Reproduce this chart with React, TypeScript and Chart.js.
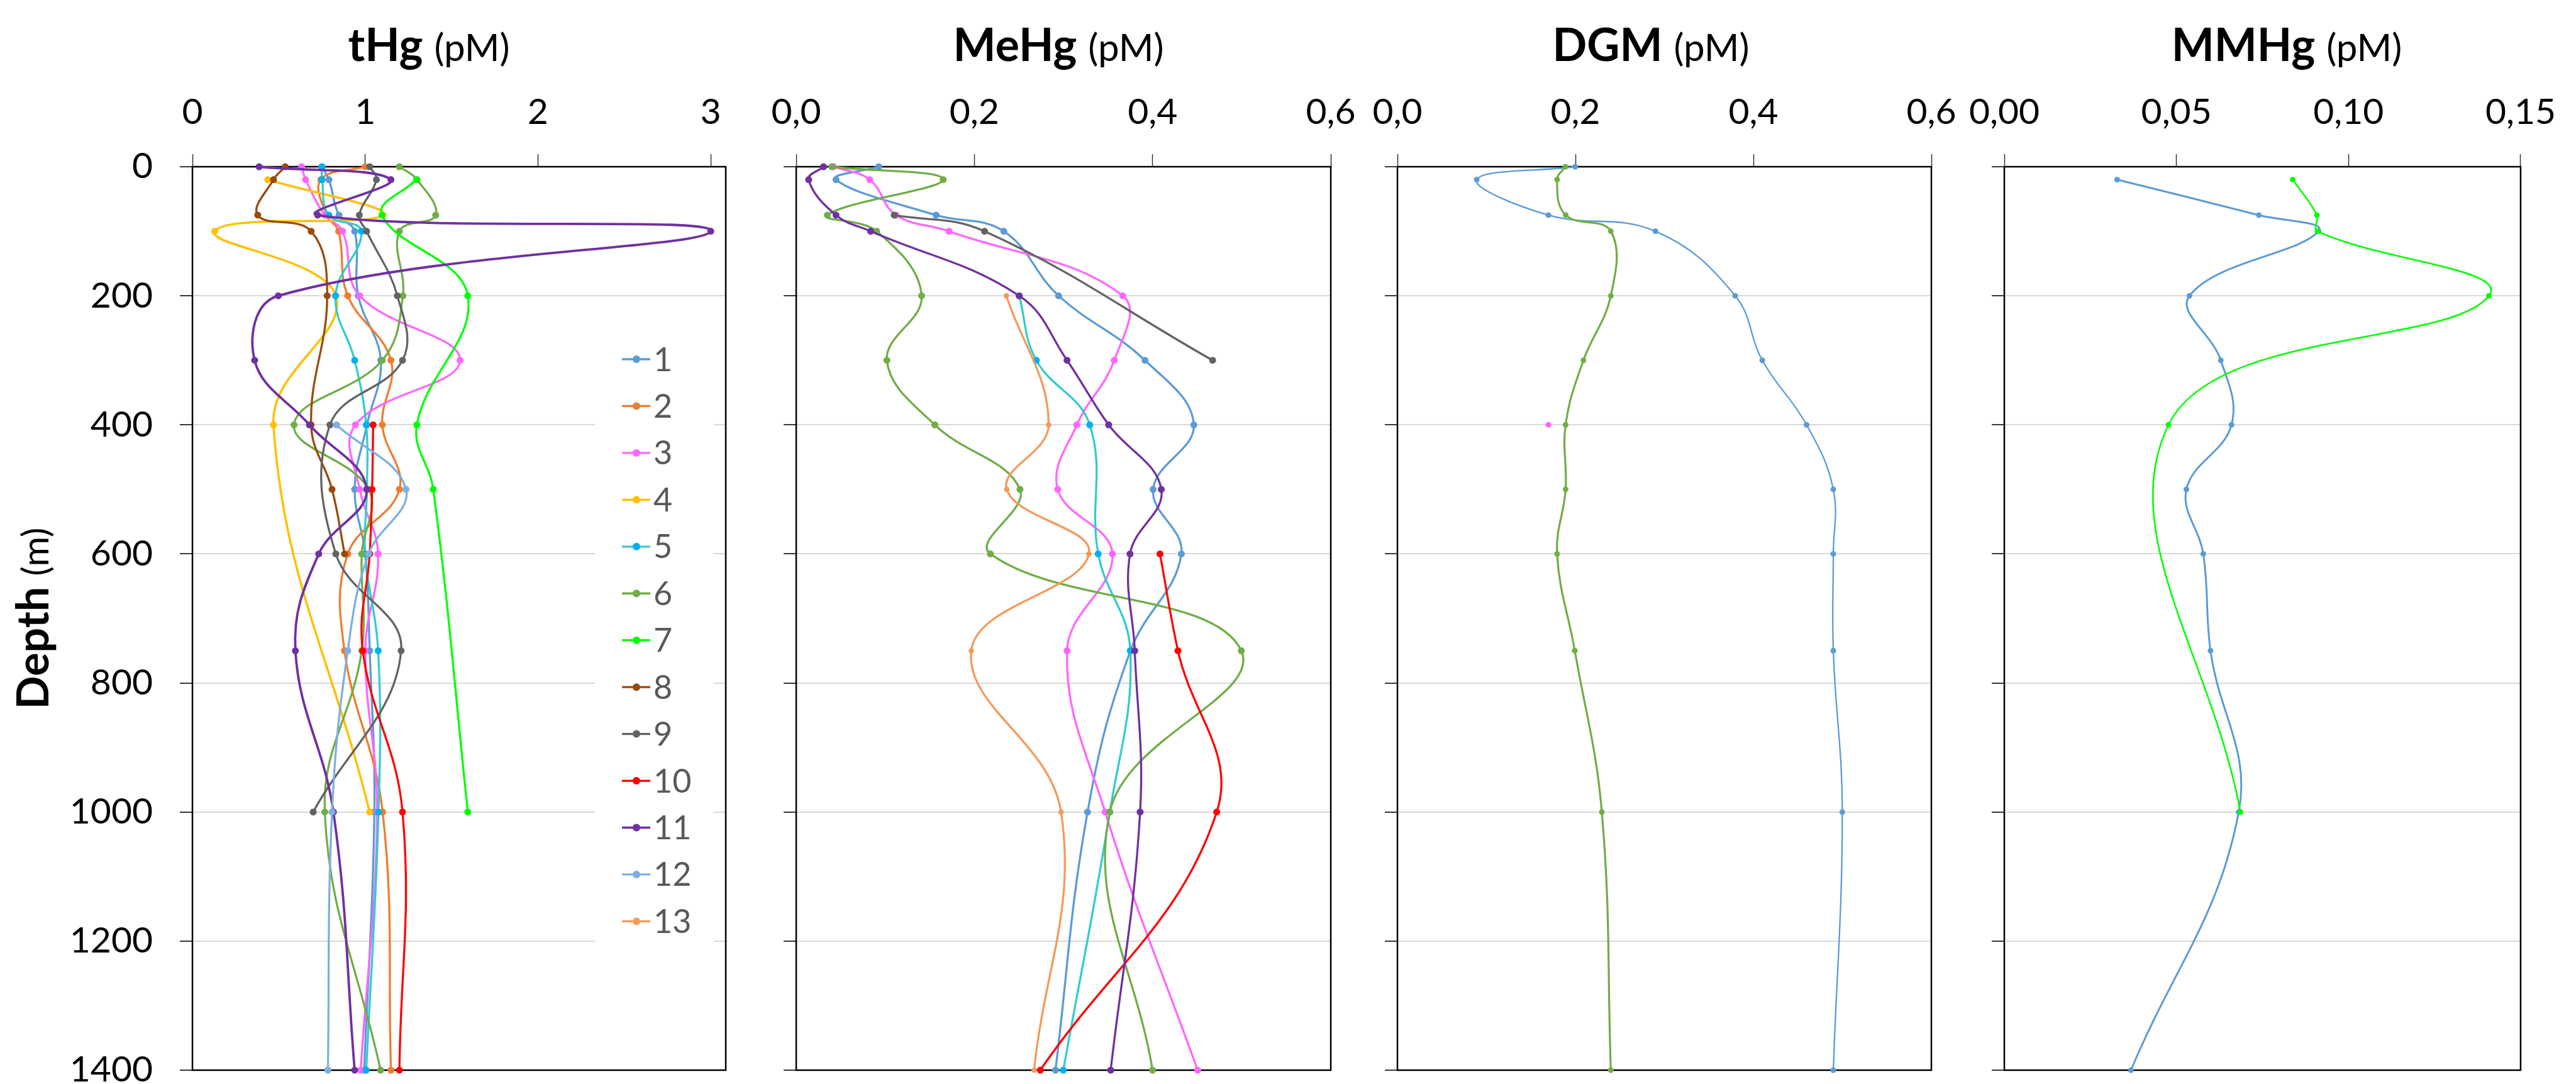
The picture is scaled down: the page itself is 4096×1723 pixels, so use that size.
import React, { useEffect, useRef } from "react";
import { Chart, registerables } from "chart.js";

Chart.register(...registerables);

// ---------- data ----------
const DEPTHS = [0, 20, 75, 100, 200, 300, 400, 500, 600, 750, 1000, 1400];
const DEPTH_TICKS = [0, 200, 400, 600, 800, 1000, 1200, 1400];
const SERIES_NAMES = ["1", "2", "3", "4", "5", "6", "7", "8", "9", "10", "11", "12", "13"];
const LINE_COLORS = ["#5B9BD5", "#ED7D31", "#FF66FF", "#FFC000", "#33CCCC", "#70AD47", "#00FF00", "#9A4A0B", "#636363", "#FF0000", "#7030A0", "#7DAFDF", "#F39A5B"];
const POINT_COLORS = ["#5B9BD5", "#ED7D31", "#FF66FF", "#FFC000", "#00B0F0", "#70AD47", "#00FF00", "#9A4A0B", "#636363", "#FF0000", "#7030A0", "#7DAFDF", "#F39A5B"];

const THG_TICKS = [0, 1, 2, 3];
const MEHG_TICKS = [0, 0.2, 0.4, 0.6];
const DGM_TICKS = [0, 0.2, 0.4, 0.6];
const MMHG_TICKS = [0, 0.05, 0.1, 0.15];

// tHg (pM)
const THG_1 = [0.75, 0.79, 0.848, 0.939, 0.96, 1.09, 1.01, 0.939, 1.0, 1.026, 1.053, 0.994];
const THG_2 = [1.0, 0.743, 0.776, 0.846, 0.899, 1.149, 1.099, 1.198, 0.899, 0.88, 1.101, 1.149];
const THG_3 = [0.632, 0.655, 0.766, 0.869, 0.968, 1.549, 0.943, 0.968, 1.075, 1.0, 1.069, 0.974];
const THG_4 = [null, 0.436, 1.103, 0.129, 0.83, null, 0.469, null, null, null, 1.026, null];
const THG_5 = [0.749, 0.75, 0.79, 0.978, 0.828, 0.939, 1.006, 1.01, 1.0, 1.075, 1.077, 1.006];
const THG_6 = [1.198, 1.3, 1.408, 1.198, 1.218, 1.099, 0.588, 1.02, 0.98, 0.98, 0.766, 1.089];
const THG_7 = [null, 1.297, 1.097, null, 1.594, null, 1.299, 1.394, null, null, 1.594, null];
const THG_8 = [0.537, 0.469, 0.378, 0.687, 0.78, null, 0.687, 0.808, 0.881, null, null, null];
const THG_9 = [1.026, 1.065, 0.966, 1.008, 1.186, 1.216, 0.796, null, 0.83, 1.208, 0.699, null];
const THG_10 = [null, null, null, null, null, null, 1.046, 1.04, 1.026, 0.986, 1.216, 1.198];
const THG_11 = [0.386, 1.149, 0.725, 3.0, 0.497, 0.36, 0.677, 1.008, 0.731, 0.596, 0.816, 0.939];
const THG_12 = [null, null, null, null, null, null, 0.834, 1.236, 1.02, 0.899, 0.808, 0.784];

// MeHg (pM)
const MEHG_1 = [0.0927, 0.0447, 0.157, 0.233, 0.2945, 0.3915, 0.4463, 0.4006, 0.4323, 0.3752, 0.327, 0.291];
const MEHG_3 = [0.042, 0.0826, 0.112, 0.1715, 0.3665, 0.357, 0.315, 0.2935, 0.355, 0.304, 0.3468, 0.4506];
const MEHG_5 = [null, null, null, null, 0.2503, 0.2695, 0.3295, null, 0.339, 0.375, 0.352, 0.2998];
const MEHG_6 = [0.04, 0.165, 0.035, 0.0903, 0.1408, 0.1018, 0.1556, 0.2512, 0.218, 0.4996, 0.352, 0.4];
const MEHG_9 = [null, null, 0.11, 0.2114, null, 0.4674, null, null, null, null, null, null];
const MEHG_10 = [null, null, null, null, null, null, null, null, 0.4083, 0.4285, 0.472, 0.274];
const MEHG_11 = [0.0307, 0.014, 0.0447, 0.0836, 0.2503, 0.304, 0.3507, 0.4098, 0.3747, 0.38, 0.386, 0.353];
const MEHG_13 = [null, null, null, null, 0.2359, null, 0.2834, 0.2363, 0.3286, 0.1965, 0.2973, 0.267];

// DGM (pM)
const DGM_1 = [0.1997, 0.0891, 0.1697, 0.29, 0.3796, 0.41, 0.4598, 0.4898, 0.4898, 0.4898, 0.4999, 0.4898];
const DGM_3 = [null, null, null, null, null, null, 0.1697, null, null, null, null, null];
const DGM_6 = [0.1887, 0.1794, 0.1891, 0.2398, 0.2398, 0.209, 0.189, 0.189, 0.1794, 0.1993, 0.2297, 0.2398];

// MMHg (pM)
const MMHG_1 = [null, 0.03277, 0.07395, 0.0913, 0.0538, 0.0629, 0.066, 0.0529, 0.0578, 0.0599, 0.0681, 0.0368];
const MMHG_7 = [null, 0.0838, 0.0908, 0.091, 0.1408, null, 0.0477, null, null, null, 0.0686, null];

// ---------- layout (page px) ----------
const W = 4096;
const H = 1723;
const CANVAS_H = 1790;
const AREA_TOP = 265;
const AREA_BOTTOM = 1701;
const FONT = "Lato, 'Open Sans', sans-serif";

type SeriesCfg = { s: number; values: (number | null)[]; width: number; radius: number };
type PanelCfg = {
  areaLeft: number;
  areaRight: number;
  L: number;
  R: number;
  xMax: number;
  ticks: number[];
  decimals: number;
  title: [string, string];
  titleCenter: number;
  showY: boolean;
  legend: boolean;
  series: SeriesCfg[];
};

const PANELS: PanelCfg[] = [
  {
    areaLeft: 306, areaRight: 1154, L: 306, R: 90, xMax: 3.087, ticks: THG_TICKS, decimals: 0,
    title: ["tHg", "(pM)"], titleCenter: 682, showY: true, legend: true,
    series: [
      { s: 0, values: THG_1, width: 3.3, radius: 5.5 },
      { s: 1, values: THG_2, width: 3.3, radius: 5.5 },
      { s: 2, values: THG_3, width: 3.3, radius: 5.5 },
      { s: 3, values: THG_4, width: 3.6, radius: 5.5 },
      { s: 4, values: THG_5, width: 3.3, radius: 5.5 },
      { s: 5, values: THG_6, width: 3.3, radius: 5.5 },
      { s: 6, values: THG_7, width: 3.3, radius: 5.5 },
      { s: 7, values: THG_8, width: 3.3, radius: 5.5 },
      { s: 8, values: THG_9, width: 3.3, radius: 5.5 },
      { s: 9, values: THG_10, width: 3.3, radius: 5.5 },
      { s: 10, values: THG_11, width: 3.8, radius: 5.5 },
      { s: 11, values: THG_12, width: 3.3, radius: 5.5 },
    ],
  },
  {
    areaLeft: 1266, areaRight: 2116, L: 90, R: 90, xMax: 0.6, ticks: MEHG_TICKS, decimals: 1,
    title: ["MeHg", "(pM)"], titleCenter: 1683, showY: false, legend: false,
    series: [
      { s: 0, values: MEHG_1, width: 3.3, radius: 5.5 },
      { s: 2, values: MEHG_3, width: 3.3, radius: 5.5 },
      { s: 4, values: MEHG_5, width: 3.3, radius: 5.5 },
      { s: 5, values: MEHG_6, width: 3.3, radius: 5.5 },
      { s: 8, values: MEHG_9, width: 3.3, radius: 5.5 },
      { s: 9, values: MEHG_10, width: 3.3, radius: 5.5 },
      { s: 10, values: MEHG_11, width: 3.3, radius: 5.5 },
      { s: 12, values: MEHG_13, width: 3.3, radius: 4.3 },
    ],
  },
  {
    areaLeft: 2222, areaRight: 3071, L: 90, R: 90, xMax: 0.6, ticks: DGM_TICKS, decimals: 1,
    title: ["DGM", "(pM)"], titleCenter: 2625, showY: false, legend: false,
    series: [
      { s: 0, values: DGM_1, width: 2.3, radius: 4.5 },
      { s: 2, values: DGM_3, width: 2.3, radius: 4.5 },
      { s: 5, values: DGM_6, width: 3.2, radius: 4.5 },
    ],
  },
  {
    areaLeft: 3187, areaRight: 4036, L: 90, R: 60, xMax: 0.15, ticks: MMHG_TICKS, decimals: 2,
    title: ["MMHg", "(pM)"], titleCenter: 3636, showY: false, legend: false,
    series: [
      { s: 0, values: MMHG_1, width: 3.0, radius: 4.5 },
      { s: 6, values: MMHG_7, width: 2.6, radius: 4.5 },
    ],
  },
];

function toPoints(values: (number | null)[]) {
  const pts: { x: number; y: number }[] = [];
  values.forEach((v, i) => {
    if (v !== null && v !== undefined) pts.push({ x: v, y: DEPTHS[i] });
  });
  return pts;
}

function fmt(v: number, d: number) {
  return Number(v).toFixed(d).replace(".", ",");
}

function makeDecor(p: PanelCfg, canvasLeft: number) {
  return {
    id: "decor",
    beforeDatasetsDraw(chart: any) {
      const { ctx, chartArea: a } = chart;
      ctx.save();
      if (p.legend) {
        ctx.fillStyle = "#ffffff";
        ctx.fillRect(946 - canvasLeft, 525, 1135 - 946, 1515 - 525);
      }
      ctx.strokeStyle = "#000000";
      ctx.lineWidth = 2.5;
      ctx.strokeRect(a.left, a.top, a.right - a.left, a.bottom - a.top);
      ctx.restore();
    },
    afterDraw(chart: any) {
      const { ctx } = chart;
      ctx.save();
      // title
      const boldFont = `bold 72px ${FONT}`;
      const normFont = `60px ${FONT}`;
      ctx.font = boldFont;
      const w1 = ctx.measureText(p.title[0]).width;
      ctx.font = normFont;
      const w2 = ctx.measureText(p.title[1]).width;
      const gap = 18;
      const total = w1 + gap + w2;
      const x0 = p.titleCenter - canvasLeft - total / 2;
      ctx.fillStyle = "#000";
      ctx.textBaseline = "alphabetic";
      ctx.textAlign = "left";
      ctx.font = boldFont;
      ctx.fillText(p.title[0], x0, 97);
      ctx.font = normFont;
      ctx.fillText(p.title[1], x0 + w1 + gap, 97);

      if (p.showY) {
        // y axis title, rotated
        const bF = `bold 70px ${FONT}`;
        const nF = `58px ${FONT}`;
        ctx.font = bF;
        const a1 = ctx.measureText("Depth").width;
        ctx.font = nF;
        const a2 = ctx.measureText("(m)").width;
        const g = 17;
        const tot = a1 + g + a2;
        ctx.translate(77 - canvasLeft, 983);
        ctx.rotate(-Math.PI / 2);
        ctx.font = bF;
        ctx.fillText("Depth", -tot / 2, 0);
        ctx.font = nF;
        ctx.fillText("(m)", -tot / 2 + a1 + g, 0);
        ctx.setTransform(1, 0, 0, 1, 0, 0);
      }

      if (p.legend) {
        ctx.font = `52px ${FONT}`;
        ctx.textAlign = "left";
        ctx.textBaseline = "alphabetic";
        SERIES_NAMES.forEach((name, i) => {
          const cy = 571 + i * 74.45;
          ctx.strokeStyle = LINE_COLORS[i];
          ctx.lineWidth = 3.3;
          ctx.beginPath();
          ctx.moveTo(989 - canvasLeft, cy);
          ctx.lineTo(1034 - canvasLeft, cy);
          ctx.stroke();
          ctx.fillStyle = POINT_COLORS[i];
          ctx.beginPath();
          ctx.arc(1012 - canvasLeft, cy, 6, 0, Math.PI * 2);
          ctx.fill();
          ctx.fillStyle = "#595959";
          ctx.fillText(name, 1039 - canvasLeft, cy + 18.5);
        });
      }
      ctx.restore();
    },
  };
}

function Panel({ p }: { p: PanelCfg }) {
  const ref = useRef<HTMLCanvasElement | null>(null);
  const canvasLeft = p.areaLeft - p.L;
  const canvasW = p.L + (p.areaRight - p.areaLeft) + p.R;

  useEffect(() => {
    if (!ref.current) return;
    const n = SERIES_NAMES.length;
    const datasets = p.series.map((sc) => ({
      label: SERIES_NAMES[sc.s],
      data: toPoints(sc.values),
      showLine: true,
      borderColor: LINE_COLORS[sc.s],
      backgroundColor: POINT_COLORS[sc.s],
      pointBackgroundColor: POINT_COLORS[sc.s],
      pointBorderColor: POINT_COLORS[sc.s],
      pointBorderWidth: 0,
      pointRadius: sc.radius,
      borderWidth: sc.width,
      tension: 0.4,
      clip: false,
      order: n - sc.s,
    }));

    const chart = new Chart(ref.current, {
      type: "scatter",
      data: { datasets },
      options: {
        responsive: false,
        animation: false,
        events: [],
        layout: { padding: { left: 0, top: 0, right: p.R, bottom: CANVAS_H - AREA_BOTTOM } },
        plugins: {
          legend: { display: false },
          tooltip: { enabled: false },
          title: { display: false },
        },
        scales: {
          x: {
            type: "linear",
            position: "top",
            min: 0,
            max: p.xMax,
            afterBuildTicks: (s: any) => {
              s.ticks = p.ticks.map((v) => ({ value: v }));
            },
            afterFit: (s: any) => {
              s.height = AREA_TOP;
            },
            ticks: {
              callback: (v: any) => fmt(v, p.decimals),
              font: { family: FONT, size: 57 },
              color: "#000",
              padding: 32,
              maxRotation: 0,
              autoSkip: false,
            },
            grid: {
              drawOnChartArea: false,
              drawTicks: true,
              tickLength: 20,
              tickColor: "#333",
              tickWidth: 1.5,
            },
            border: { display: false },
          },
          y: {
            type: "linear",
            reverse: true,
            min: 0,
            max: 1400,
            afterBuildTicks: (s: any) => {
              s.ticks = DEPTH_TICKS.map((v) => ({ value: v }));
            },
            afterFit: (s: any) => {
              s.width = p.L;
            },
            ticks: {
              display: p.showY,
              callback: (v: any) => String(v),
              font: { family: FONT, size: 57 },
              color: "#000",
              padding: 43,
            },
            grid: {
              color: (c: any) =>
                c.tick && (c.tick.value === 0 || c.tick.value === 1400) ? "rgba(0,0,0,0)" : "#D9D9D9",
              lineWidth: 2,
              drawTicks: true,
              tickLength: 20,
              tickColor: "#222",
              tickWidth: 1.8,
            },
            border: { display: false },
          },
        },
      },
      plugins: [makeDecor(p, canvasLeft)],
    } as any);
    return () => chart.destroy();
  }, []);

  return (
    <canvas
      ref={ref}
      width={canvasW}
      height={CANVAS_H}
      style={{ position: "absolute", left: canvasLeft, top: 0, width: canvasW, height: CANVAS_H }}
    />
  );
}

export default function App() {
  return (
    <div
      style={{
        position: "absolute",
        left: 0,
        top: 0,
        width: W,
        height: H,
        overflow: "hidden",
        background: "#ffffff",
      }}
    >
      {PANELS.map((p, i) => (
        <Panel key={i} p={p} />
      ))}
    </div>
  );
}
